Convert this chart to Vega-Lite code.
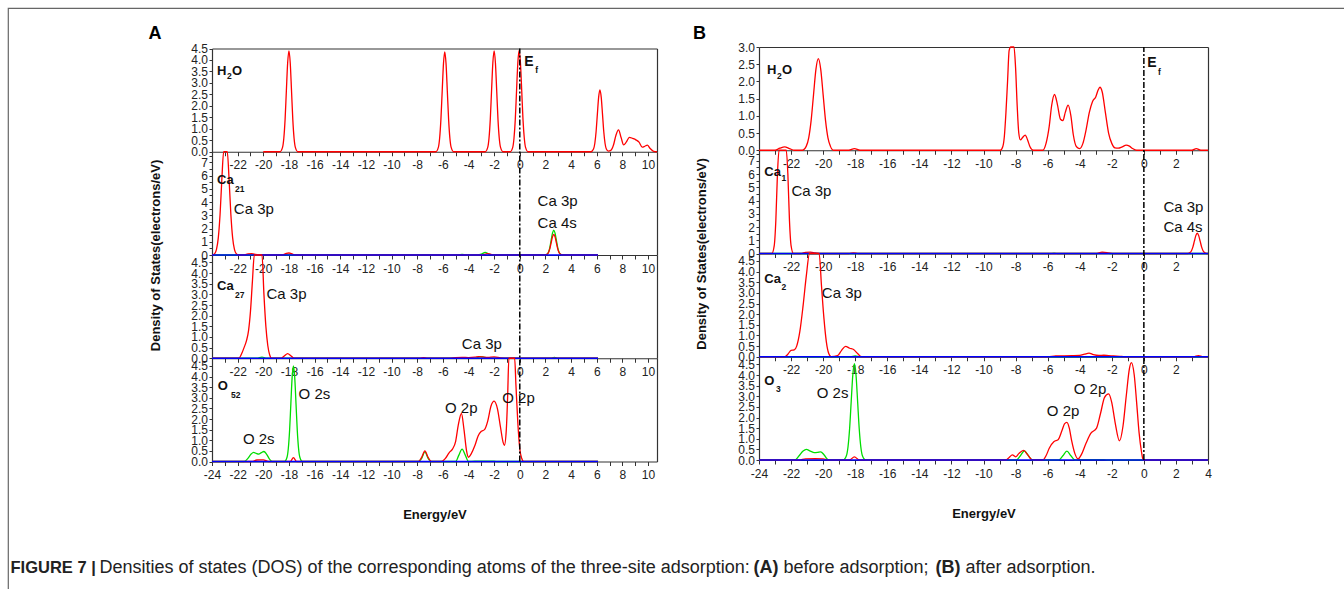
{
"$schema": "https://vega.github.io/schema/vega-lite/v6.json",
"width": 1340, "height": 600,
"autosize": {"type": "none"},
"padding": {"left": 8, "top": 8, "right": -4, "bottom": -19},
"config": {
  "font": "Liberation Sans",
  "view": {"stroke": "#666", "strokeWidth": 1.2},
  "axis": {"domainColor": "#333", "domainWidth": 1.2, "tickColor": "#333", "tickWidth": 1, "labelColor": "#222", "labelFont": "Liberation Sans", "labelFontSize": 12, "labelFlush": false, "labelOverlap": false, "labelBound": false, "grid": false, "titleColor": "#111", "titleFont": "Liberation Sans", "titleFontWeight": "bold", "titleFontSize": 13, "minExtent": 0}
},
"datasets": {
"A_H2O": [
{"energy":-20,"dos":0,"orbital":"p"},{"energy":-18.7,"dos":0,"orbital":"p"},{"energy":-18.5,"dos":0.19,"orbital":"p"},{"energy":-18.4,"dos":0.59,"orbital":"p"},{"energy":-18.3,"dos":1.41,"orbital":"p"},{"energy":-18.2,"dos":2.67,"orbital":"p"},{"energy":-18.1,"dos":3.88,"orbital":"p"},{"energy":-18,"dos":4.4,"orbital":"p"},{"energy":-17.9,"dos":3.88,"orbital":"p"},{"energy":-17.8,"dos":2.67,"orbital":"p"},{"energy":-17.7,"dos":1.41,"orbital":"p"},{"energy":-17.6,"dos":0.59,"orbital":"p"},{"energy":-17.5,"dos":0.19,"orbital":"p"},{"energy":-17.3,"dos":0,"orbital":"p"},
{"energy":-6.55,"dos":0,"orbital":"p"},{"energy":-6.35,"dos":0.19,"orbital":"p"},{"energy":-6.25,"dos":0.59,"orbital":"p"},{"energy":-6.15,"dos":1.41,"orbital":"p"},{"energy":-6.05,"dos":2.64,"orbital":"p"},{"energy":-5.95,"dos":3.84,"orbital":"p"},{"energy":-5.85,"dos":4.35,"orbital":"p"},{"energy":-5.75,"dos":3.84,"orbital":"p"},{"energy":-5.65,"dos":2.64,"orbital":"p"},{"energy":-5.55,"dos":1.41,"orbital":"p"},{"energy":-5.45,"dos":0.59,"orbital":"p"},{"energy":-5.35,"dos":0.19,"orbital":"p"},{"energy":-5.15,"dos":0,"orbital":"p"},
{"energy":-2.7,"dos":0,"orbital":"p"},{"energy":-2.5,"dos":0.19,"orbital":"p"},{"energy":-2.4,"dos":0.59,"orbital":"p"},{"energy":-2.3,"dos":1.41,"orbital":"p"},{"energy":-2.2,"dos":2.67,"orbital":"p"},{"energy":-2.1,"dos":3.88,"orbital":"p"},{"energy":-2,"dos":4.4,"orbital":"p"},{"energy":-1.9,"dos":3.88,"orbital":"p"},{"energy":-1.8,"dos":2.67,"orbital":"p"},{"energy":-1.7,"dos":1.41,"orbital":"p"},{"energy":-1.6,"dos":0.59,"orbital":"p"},{"energy":-1.5,"dos":0.19,"orbital":"p"},{"energy":-1.3,"dos":0,"orbital":"p"},
{"energy":-0.75,"dos":0,"orbital":"p"},{"energy":-0.55,"dos":0.19,"orbital":"p"},{"energy":-0.45,"dos":0.6,"orbital":"p"},{"energy":-0.35,"dos":1.41,"orbital":"p"},{"energy":-0.25,"dos":2.68,"orbital":"p"},{"energy":-0.15,"dos":3.89,"orbital":"p"},{"energy":-0.05,"dos":4.42,"orbital":"p"},{"energy":0.05,"dos":3.89,"orbital":"p"},{"energy":0.15,"dos":2.68,"orbital":"p"},{"energy":0.25,"dos":1.41,"orbital":"p"},{"energy":0.35,"dos":0.6,"orbital":"p"},{"energy":0.45,"dos":0.19,"orbital":"p"},{"energy":0.65,"dos":0,"orbital":"p"},
{"energy":5.55,"dos":0,"orbital":"p"},{"energy":5.75,"dos":0.12,"orbital":"p"},{"energy":5.85,"dos":0.36,"orbital":"p"},{"energy":5.95,"dos":0.87,"orbital":"p"},{"energy":6.05,"dos":1.64,"orbital":"p"},{"energy":6.15,"dos":2.38,"orbital":"p"},{"energy":6.25,"dos":2.7,"orbital":"p"},{"energy":6.35,"dos":2.38,"orbital":"p"},{"energy":6.45,"dos":1.64,"orbital":"p"},{"energy":6.55,"dos":0.87,"orbital":"p"},{"energy":6.65,"dos":0.36,"orbital":"p"},{"energy":6.75,"dos":0.12,"orbital":"p"},{"energy":6.9,"dos":0.03,"orbital":"p"},{"energy":7.1,"dos":0.06,"orbital":"p"},{"energy":7.3,"dos":0.28,"orbital":"p"},{"energy":7.5,"dos":0.72,"orbital":"p"},{"energy":7.7,"dos":0.95,"orbital":"p"},{"energy":7.9,"dos":0.62,"orbital":"p"},{"energy":8.1,"dos":0.3,"orbital":"p"},{"energy":8.3,"dos":0.42,"orbital":"p"},{"energy":8.55,"dos":0.63,"orbital":"p"},{"energy":8.8,"dos":0.58,"orbital":"p"},{"energy":9.05,"dos":0.52,"orbital":"p"},{"energy":9.3,"dos":0.42,"orbital":"p"},{"energy":9.55,"dos":0.2,"orbital":"p"},{"energy":9.75,"dos":0.24,"orbital":"p"},{"energy":9.95,"dos":0.29,"orbital":"p"},{"energy":10.15,"dos":0.15,"orbital":"p"},{"energy":10.4,"dos":0.03,"orbital":"p"},{"energy":10.7,"dos":0,"orbital":"p"}
],
"A_Ca21": [
{"energy":-24,"dos":0,"orbital":"s"},{"energy":-4.8,"dos":0,"orbital":"s"},{"energy":-4.5,"dos":0.04,"orbital":"s"},{"energy":-4.2,"dos":0,"orbital":"s"},{"energy":-3.3,"dos":0,"orbital":"s"},{"energy":-3,"dos":0.06,"orbital":"s"},{"energy":-2.7,"dos":0.2,"orbital":"s"},{"energy":-2.4,"dos":0.06,"orbital":"s"},{"energy":-2.1,"dos":0,"orbital":"s"},{"energy":1.95,"dos":0,"orbital":"s"},{"energy":2.15,"dos":0.08,"orbital":"s"},{"energy":2.25,"dos":0.25,"orbital":"s"},{"energy":2.35,"dos":0.6,"orbital":"s"},{"energy":2.45,"dos":1.14,"orbital":"s"},{"energy":2.55,"dos":1.65,"orbital":"s"},{"energy":2.65,"dos":1.88,"orbital":"s"},{"energy":2.75,"dos":1.65,"orbital":"s"},{"energy":2.85,"dos":1.14,"orbital":"s"},{"energy":2.95,"dos":0.6,"orbital":"s"},{"energy":3.05,"dos":0.25,"orbital":"s"},{"energy":3.15,"dos":0.08,"orbital":"s"},{"energy":3.35,"dos":0,"orbital":"s"},{"energy":6.1,"dos":0,"orbital":"s"},
{"energy":-24,"dos":0,"orbital":"p"},{"energy":-23.95,"dos":0,"orbital":"p"},{"energy":-23.79,"dos":0.1,"orbital":"p"},{"energy":-23.65,"dos":0.42,"orbital":"p"},{"energy":-23.51,"dos":1.29,"orbital":"p"},{"energy":-23.37,"dos":3.08,"orbital":"p"},{"energy":-23.23,"dos":5.76,"orbital":"p"},{"energy":-23.09,"dos":8.38,"orbital":"p"},{"energy":-22.95,"dos":9.5,"orbital":"p"},{"energy":-22.81,"dos":8.38,"orbital":"p"},{"energy":-22.67,"dos":5.76,"orbital":"p"},{"energy":-22.53,"dos":3.08,"orbital":"p"},{"energy":-22.39,"dos":1.29,"orbital":"p"},{"energy":-22.25,"dos":0.42,"orbital":"p"},{"energy":-22.11,"dos":0.1,"orbital":"p"},{"energy":-21.95,"dos":0,"orbital":"p"},{"energy":-21.5,"dos":0,"orbital":"p"},{"energy":-21.2,"dos":0.08,"orbital":"p"},{"energy":-20.9,"dos":0.1,"orbital":"p"},{"energy":-20.6,"dos":0.05,"orbital":"p"},{"energy":-20.3,"dos":0,"orbital":"p"},{"energy":-18.5,"dos":0,"orbital":"p"},{"energy":-18.2,"dos":0.12,"orbital":"p"},{"energy":-18,"dos":0.15,"orbital":"p"},{"energy":-17.8,"dos":0.1,"orbital":"p"},{"energy":-17.5,"dos":0,"orbital":"p"},{"energy":-3,"dos":0,"orbital":"p"},{"energy":-2.5,"dos":0.1,"orbital":"p"},{"energy":-2,"dos":0,"orbital":"p"},{"energy":1.95,"dos":0,"orbital":"p"},{"energy":2.15,"dos":0.07,"orbital":"p"},{"energy":2.25,"dos":0.21,"orbital":"p"},{"energy":2.35,"dos":0.5,"orbital":"p"},{"energy":2.45,"dos":0.94,"orbital":"p"},{"energy":2.55,"dos":1.37,"orbital":"p"},{"energy":2.65,"dos":1.55,"orbital":"p"},{"energy":2.75,"dos":1.37,"orbital":"p"},{"energy":2.85,"dos":0.94,"orbital":"p"},{"energy":2.95,"dos":0.5,"orbital":"p"},{"energy":3.05,"dos":0.21,"orbital":"p"},{"energy":3.15,"dos":0.07,"orbital":"p"},{"energy":3.35,"dos":0,"orbital":"p"},{"energy":6.1,"dos":0,"orbital":"p"},
{"energy":-24,"dos":0,"orbital":"d"},{"energy":6.1,"dos":0,"orbital":"d"}
],
"A_Ca27": [
{"energy":-24,"dos":0,"orbital":"s"},{"energy":-20.5,"dos":0,"orbital":"s"},{"energy":-20.1,"dos":0.05,"orbital":"s"},{"energy":-19.8,"dos":0,"orbital":"s"},{"energy":-3.5,"dos":0,"orbital":"s"},{"energy":-3.1,"dos":0.07,"orbital":"s"},{"energy":-2.7,"dos":0.04,"orbital":"s"},{"energy":-2.3,"dos":0,"orbital":"s"},{"energy":2.4,"dos":0,"orbital":"s"},{"energy":2.7,"dos":0.04,"orbital":"s"},{"energy":3,"dos":0,"orbital":"s"},{"energy":6.1,"dos":0,"orbital":"s"},
{"energy":-24,"dos":0,"orbital":"p"},{"energy":-21.9,"dos":0,"orbital":"p"},{"energy":-21.7,"dos":0.2,"orbital":"p"},{"energy":-21.5,"dos":0.5,"orbital":"p"},{"energy":-21.3,"dos":0.85,"orbital":"p"},{"energy":-21.15,"dos":1.3,"orbital":"p"},{"energy":-21,"dos":2.2,"orbital":"p"},{"energy":-20.85,"dos":3.6,"orbital":"p"},{"energy":-20.7,"dos":5.2,"orbital":"p"},{"energy":-20.55,"dos":6.5,"orbital":"p"},{"energy":-20.4,"dos":7,"orbital":"p"},{"energy":-20.25,"dos":6.5,"orbital":"p"},{"energy":-20.1,"dos":5,"orbital":"p"},{"energy":-19.95,"dos":3,"orbital":"p"},{"energy":-19.8,"dos":1.5,"orbital":"p"},{"energy":-19.65,"dos":0.6,"orbital":"p"},{"energy":-19.5,"dos":0.15,"orbital":"p"},{"energy":-19.35,"dos":0,"orbital":"p"},{"energy":-18.6,"dos":0,"orbital":"p"},{"energy":-18.35,"dos":0.12,"orbital":"p"},{"energy":-18.1,"dos":0.22,"orbital":"p"},{"energy":-17.85,"dos":0.12,"orbital":"p"},{"energy":-17.6,"dos":0,"orbital":"p"},{"energy":-7.8,"dos":0,"orbital":"p"},{"energy":-7.5,"dos":0.03,"orbital":"p"},{"energy":-7.2,"dos":0,"orbital":"p"},{"energy":-5.5,"dos":0,"orbital":"p"},{"energy":-5,"dos":0.03,"orbital":"p"},{"energy":-4.5,"dos":0.04,"orbital":"p"},{"energy":-4,"dos":0.03,"orbital":"p"},{"energy":-3.5,"dos":0.05,"orbital":"p"},{"energy":-3.2,"dos":0.08,"orbital":"p"},{"energy":-2.9,"dos":0.06,"orbital":"p"},{"energy":-2.5,"dos":0.04,"orbital":"p"},{"energy":-2,"dos":0.06,"orbital":"p"},{"energy":-1.5,"dos":0.02,"orbital":"p"},{"energy":-1,"dos":0,"orbital":"p"},{"energy":6.1,"dos":0,"orbital":"p"},
{"energy":-24,"dos":0,"orbital":"d"},{"energy":6.1,"dos":0,"orbital":"d"}
],
"A_O52": [
{"energy":-24,"dos":0,"orbital":"s"},{"energy":-21.5,"dos":0,"orbital":"s"},{"energy":-21.2,"dos":0.15,"orbital":"s"},{"energy":-20.95,"dos":0.35,"orbital":"s"},{"energy":-20.75,"dos":0.43,"orbital":"s"},{"energy":-20.55,"dos":0.38,"orbital":"s"},{"energy":-20.35,"dos":0.35,"orbital":"s"},{"energy":-20.15,"dos":0.42,"orbital":"s"},{"energy":-19.95,"dos":0.47,"orbital":"s"},{"energy":-19.75,"dos":0.35,"orbital":"s"},{"energy":-19.5,"dos":0.1,"orbital":"s"},{"energy":-19.3,"dos":0,"orbital":"s"},{"energy":-18.35,"dos":0,"orbital":"s"},{"energy":-18.15,"dos":0.2,"orbital":"s"},{"energy":-18.05,"dos":0.61,"orbital":"s"},{"energy":-17.95,"dos":1.46,"orbital":"s"},{"energy":-17.85,"dos":2.73,"orbital":"s"},{"energy":-17.75,"dos":3.97,"orbital":"s"},{"energy":-17.65,"dos":4.5,"orbital":"s"},{"energy":-17.55,"dos":3.97,"orbital":"s"},{"energy":-17.45,"dos":2.73,"orbital":"s"},{"energy":-17.35,"dos":1.46,"orbital":"s"},{"energy":-17.25,"dos":0.61,"orbital":"s"},{"energy":-17.15,"dos":0.2,"orbital":"s"},{"energy":-16.95,"dos":0,"orbital":"s"},{"energy":-7.9,"dos":0,"orbital":"s"},{"energy":-7.65,"dos":0.15,"orbital":"s"},{"energy":-7.4,"dos":0.45,"orbital":"s"},{"energy":-7.15,"dos":0.15,"orbital":"s"},{"energy":-6.9,"dos":0,"orbital":"s"},{"energy":-5,"dos":0,"orbital":"s"},{"energy":-4.75,"dos":0.3,"orbital":"s"},{"energy":-4.5,"dos":0.58,"orbital":"s"},{"energy":-4.25,"dos":0.3,"orbital":"s"},{"energy":-4,"dos":0,"orbital":"s"},{"energy":-3.5,"dos":0.02,"orbital":"s"},{"energy":-2,"dos":0.02,"orbital":"s"},{"energy":-1.7,"dos":0,"orbital":"s"},{"energy":6.1,"dos":0,"orbital":"s"},
{"energy":-24,"dos":0,"orbital":"p"},{"energy":-20.9,"dos":0,"orbital":"p"},{"energy":-20.5,"dos":0.07,"orbital":"p"},{"energy":-20,"dos":0.08,"orbital":"p"},{"energy":-19.6,"dos":0,"orbital":"p"},{"energy":-17.9,"dos":0,"orbital":"p"},{"energy":-17.65,"dos":0.18,"orbital":"p"},{"energy":-17.4,"dos":0,"orbital":"p"},{"energy":-7.9,"dos":0,"orbital":"p"},{"energy":-7.65,"dos":0.2,"orbital":"p"},{"energy":-7.4,"dos":0.5,"orbital":"p"},{"energy":-7.15,"dos":0.2,"orbital":"p"},{"energy":-6.9,"dos":0,"orbital":"p"},{"energy":-6.1,"dos":0,"orbital":"p"},{"energy":-5.8,"dos":0.15,"orbital":"p"},{"energy":-5.5,"dos":0.42,"orbital":"p"},{"energy":-5.25,"dos":0.58,"orbital":"p"},{"energy":-5,"dos":0.95,"orbital":"p"},{"energy":-4.8,"dos":1.7,"orbital":"p"},{"energy":-4.55,"dos":2.26,"orbital":"p"},{"energy":-4.35,"dos":1.5,"orbital":"p"},{"energy":-4.15,"dos":0.5,"orbital":"p"},{"energy":-4,"dos":0.2,"orbital":"p"},{"energy":-3.8,"dos":0.35,"orbital":"p"},{"energy":-3.5,"dos":0.75,"orbital":"p"},{"energy":-3.25,"dos":1.2,"orbital":"p"},{"energy":-3,"dos":1.42,"orbital":"p"},{"energy":-2.75,"dos":1.5,"orbital":"p"},{"energy":-2.5,"dos":1.9,"orbital":"p"},{"energy":-2.25,"dos":2.6,"orbital":"p"},{"energy":-2,"dos":2.84,"orbital":"p"},{"energy":-1.75,"dos":2.5,"orbital":"p"},{"energy":-1.5,"dos":1.6,"orbital":"p"},{"energy":-1.3,"dos":0.9,"orbital":"p"},{"energy":-1.2,"dos":0.76,"orbital":"p"},{"energy":-1.05,"dos":1.5,"orbital":"p"},{"energy":-0.95,"dos":3,"orbital":"p"},{"energy":-0.85,"dos":4.9,"orbital":"p"},{"energy":-0.7,"dos":5.6,"orbital":"p"},{"energy":-0.55,"dos":5.6,"orbital":"p"},{"energy":-0.4,"dos":4.9,"orbital":"p"},{"energy":-0.3,"dos":3.6,"orbital":"p"},{"energy":-0.15,"dos":1.8,"orbital":"p"},{"energy":0,"dos":0.6,"orbital":"p"},{"energy":0.15,"dos":0.15,"orbital":"p"},{"energy":0.3,"dos":0,"orbital":"p"},{"energy":6.1,"dos":0,"orbital":"p"},
{"energy":-24,"dos":0,"orbital":"d"},{"energy":6.1,"dos":0,"orbital":"d"}
],
"B_H2O": [
{"energy":-24,"dos":0,"orbital":"p"},{"energy":-23,"dos":0,"orbital":"p"},{"energy":-22.7,"dos":0.06,"orbital":"p"},{"energy":-22.4,"dos":0.1,"orbital":"p"},{"energy":-22.1,"dos":0.05,"orbital":"p"},{"energy":-21.8,"dos":0,"orbital":"p"},{"energy":-21.3,"dos":0,"orbital":"p"},{"energy":-21.05,"dos":0.12,"orbital":"p"},{"energy":-20.9,"dos":0.36,"orbital":"p"},{"energy":-20.75,"dos":0.86,"orbital":"p"},{"energy":-20.6,"dos":1.61,"orbital":"p"},{"energy":-20.45,"dos":2.35,"orbital":"p"},{"energy":-20.3,"dos":2.66,"orbital":"p"},{"energy":-20.15,"dos":2.35,"orbital":"p"},{"energy":-20,"dos":1.61,"orbital":"p"},{"energy":-19.85,"dos":0.86,"orbital":"p"},{"energy":-19.7,"dos":0.36,"orbital":"p"},{"energy":-19.55,"dos":0.12,"orbital":"p"},{"energy":-19.35,"dos":0,"orbital":"p"},{"energy":-18.4,"dos":0,"orbital":"p"},{"energy":-18.05,"dos":0.05,"orbital":"p"},{"energy":-17.7,"dos":0,"orbital":"p"},{"energy":-8.95,"dos":0,"orbital":"p"},{"energy":-8.8,"dos":0.1,"orbital":"p"},{"energy":-8.7,"dos":0.4,"orbital":"p"},{"energy":-8.6,"dos":1.1,"orbital":"p"},{"energy":-8.5,"dos":2,"orbital":"p"},{"energy":-8.4,"dos":2.9,"orbital":"p"},{"energy":-8.3,"dos":3.5,"orbital":"p"},{"energy":-8.2,"dos":3.7,"orbital":"p"},{"energy":-8.1,"dos":3.3,"orbital":"p"},{"energy":-8,"dos":2.4,"orbital":"p"},{"energy":-7.9,"dos":1.3,"orbital":"p"},{"energy":-7.8,"dos":0.5,"orbital":"p"},{"energy":-7.7,"dos":0.3,"orbital":"p"},{"energy":-7.55,"dos":0.38,"orbital":"p"},{"energy":-7.4,"dos":0.44,"orbital":"p"},{"energy":-7.25,"dos":0.3,"orbital":"p"},{"energy":-7.1,"dos":0.1,"orbital":"p"},{"energy":-6.9,"dos":0,"orbital":"p"},{"energy":-6.3,"dos":0,"orbital":"p"},{"energy":-6.1,"dos":0.2,"orbital":"p"},{"energy":-5.9,"dos":0.7,"orbital":"p"},{"energy":-5.75,"dos":1.3,"orbital":"p"},{"energy":-5.57,"dos":1.62,"orbital":"p"},{"energy":-5.4,"dos":1.35,"orbital":"p"},{"energy":-5.2,"dos":0.9,"orbital":"p"},{"energy":-5.05,"dos":0.86,"orbital":"p"},{"energy":-4.9,"dos":1.1,"orbital":"p"},{"energy":-4.72,"dos":1.31,"orbital":"p"},{"energy":-4.55,"dos":1,"orbital":"p"},{"energy":-4.4,"dos":0.45,"orbital":"p"},{"energy":-4.2,"dos":0.1,"orbital":"p"},{"energy":-4,"dos":0.05,"orbital":"p"},{"energy":-3.8,"dos":0.2,"orbital":"p"},{"energy":-3.6,"dos":0.6,"orbital":"p"},{"energy":-3.4,"dos":1.1,"orbital":"p"},{"energy":-3.2,"dos":1.42,"orbital":"p"},{"energy":-3,"dos":1.55,"orbital":"p"},{"energy":-2.85,"dos":1.75,"orbital":"p"},{"energy":-2.74,"dos":1.83,"orbital":"p"},{"energy":-2.6,"dos":1.7,"orbital":"p"},{"energy":-2.4,"dos":1.1,"orbital":"p"},{"energy":-2.2,"dos":0.5,"orbital":"p"},{"energy":-2,"dos":0.2,"orbital":"p"},{"energy":-1.8,"dos":0.07,"orbital":"p"},{"energy":-1.6,"dos":0.06,"orbital":"p"},{"energy":-1.35,"dos":0.1,"orbital":"p"},{"energy":-1.1,"dos":0.15,"orbital":"p"},{"energy":-0.9,"dos":0.12,"orbital":"p"},{"energy":-0.7,"dos":0.05,"orbital":"p"},{"energy":-0.45,"dos":0,"orbital":"p"},{"energy":3,"dos":0,"orbital":"p"},{"energy":3.27,"dos":0.05,"orbital":"p"},{"energy":3.55,"dos":0,"orbital":"p"},{"energy":4,"dos":0,"orbital":"p"}
],
"B_Ca1": [
{"energy":-24,"dos":0,"orbital":"s"},{"energy":-5.9,"dos":0,"orbital":"s"},{"energy":-5.6,"dos":0.03,"orbital":"s"},{"energy":-5.3,"dos":0,"orbital":"s"},{"energy":-2.9,"dos":0,"orbital":"s"},{"energy":-2.5,"dos":0.06,"orbital":"s"},{"energy":-2.1,"dos":0,"orbital":"s"},{"energy":4,"dos":0,"orbital":"s"},
{"energy":-24,"dos":0,"orbital":"p"},{"energy":-23.2,"dos":0,"orbital":"p"},{"energy":-23.05,"dos":0.6,"orbital":"p"},{"energy":-22.95,"dos":2.5,"orbital":"p"},{"energy":-22.85,"dos":6,"orbital":"p"},{"energy":-22.75,"dos":9.5,"orbital":"p"},{"energy":-22.6,"dos":12,"orbital":"p"},{"energy":-22.45,"dos":12,"orbital":"p"},{"energy":-22.3,"dos":9.5,"orbital":"p"},{"energy":-22.2,"dos":6,"orbital":"p"},{"energy":-22.1,"dos":2.5,"orbital":"p"},{"energy":-22,"dos":0.6,"orbital":"p"},{"energy":-21.85,"dos":0,"orbital":"p"},{"energy":-21.4,"dos":0,"orbital":"p"},{"energy":-21.1,"dos":0.08,"orbital":"p"},{"energy":-20.8,"dos":0.1,"orbital":"p"},{"energy":-20.5,"dos":0.05,"orbital":"p"},{"energy":-20.2,"dos":0,"orbital":"p"},{"energy":-18.4,"dos":0,"orbital":"p"},{"energy":-18.1,"dos":0.05,"orbital":"p"},{"energy":-17.8,"dos":0,"orbital":"p"},{"energy":-3,"dos":0,"orbital":"p"},{"energy":-2.6,"dos":0.1,"orbital":"p"},{"energy":-2.2,"dos":0.05,"orbital":"p"},{"energy":-1.9,"dos":0,"orbital":"p"},{"energy":2.75,"dos":0,"orbital":"p"},{"energy":2.88,"dos":0.07,"orbital":"p"},{"energy":2.97,"dos":0.21,"orbital":"p"},{"energy":3.06,"dos":0.5,"orbital":"p"},{"energy":3.15,"dos":0.93,"orbital":"p"},{"energy":3.24,"dos":1.35,"orbital":"p"},{"energy":3.33,"dos":1.53,"orbital":"p"},{"energy":3.42,"dos":1.35,"orbital":"p"},{"energy":3.51,"dos":0.93,"orbital":"p"},{"energy":3.6,"dos":0.5,"orbital":"p"},{"energy":3.69,"dos":0.21,"orbital":"p"},{"energy":3.78,"dos":0.07,"orbital":"p"},{"energy":3.9,"dos":0,"orbital":"p"},{"energy":4,"dos":0,"orbital":"p"},
{"energy":-24,"dos":0,"orbital":"d"},{"energy":4,"dos":0,"orbital":"d"}
],
"B_Ca2": [
{"energy":-24,"dos":0,"orbital":"s"},{"energy":-18.3,"dos":0,"orbital":"s"},{"energy":-18,"dos":0.04,"orbital":"s"},{"energy":-17.7,"dos":0,"orbital":"s"},{"energy":4,"dos":0,"orbital":"s"},
{"energy":-24,"dos":0,"orbital":"p"},{"energy":-22.4,"dos":0,"orbital":"p"},{"energy":-22.2,"dos":0.12,"orbital":"p"},{"energy":-22,"dos":0.3,"orbital":"p"},{"energy":-21.8,"dos":0.32,"orbital":"p"},{"energy":-21.65,"dos":0.5,"orbital":"p"},{"energy":-21.45,"dos":1.2,"orbital":"p"},{"energy":-21.25,"dos":2.4,"orbital":"p"},{"energy":-21.05,"dos":3.8,"orbital":"p"},{"energy":-20.85,"dos":5,"orbital":"p"},{"energy":-20.6,"dos":5.8,"orbital":"p"},{"energy":-20.4,"dos":5.6,"orbital":"p"},{"energy":-20.25,"dos":4.9,"orbital":"p"},{"energy":-20.1,"dos":3.3,"orbital":"p"},{"energy":-19.95,"dos":1.8,"orbital":"p"},{"energy":-19.8,"dos":0.7,"orbital":"p"},{"energy":-19.65,"dos":0.15,"orbital":"p"},{"energy":-19.5,"dos":0,"orbital":"p"},{"energy":-19.1,"dos":0.05,"orbital":"p"},{"energy":-18.85,"dos":0.3,"orbital":"p"},{"energy":-18.6,"dos":0.49,"orbital":"p"},{"energy":-18.35,"dos":0.4,"orbital":"p"},{"energy":-18.1,"dos":0.34,"orbital":"p"},{"energy":-17.85,"dos":0.15,"orbital":"p"},{"energy":-17.6,"dos":0,"orbital":"p"},{"energy":-6,"dos":0,"orbital":"p"},{"energy":-5.5,"dos":0.04,"orbital":"p"},{"energy":-4.5,"dos":0.05,"orbital":"p"},{"energy":-4,"dos":0.06,"orbital":"p"},{"energy":-3.7,"dos":0.12,"orbital":"p"},{"energy":-3.42,"dos":0.17,"orbital":"p"},{"energy":-3.15,"dos":0.1,"orbital":"p"},{"energy":-2.8,"dos":0.06,"orbital":"p"},{"energy":-2.5,"dos":0.07,"orbital":"p"},{"energy":-2.2,"dos":0.05,"orbital":"p"},{"energy":-1.9,"dos":0.04,"orbital":"p"},{"energy":-1.5,"dos":0.02,"orbital":"p"},{"energy":-1.2,"dos":0,"orbital":"p"},{"energy":3.1,"dos":0,"orbital":"p"},{"energy":3.4,"dos":0.05,"orbital":"p"},{"energy":3.7,"dos":0,"orbital":"p"},{"energy":4,"dos":0,"orbital":"p"},
{"energy":-24,"dos":0,"orbital":"d"},{"energy":4,"dos":0,"orbital":"d"}
],
"B_O3": [
{"energy":-24,"dos":0,"orbital":"s"},{"energy":-21.75,"dos":0,"orbital":"s"},{"energy":-21.5,"dos":0.2,"orbital":"s"},{"energy":-21.25,"dos":0.42,"orbital":"s"},{"energy":-21.05,"dos":0.5,"orbital":"s"},{"energy":-20.8,"dos":0.42,"orbital":"s"},{"energy":-20.55,"dos":0.35,"orbital":"s"},{"energy":-20.35,"dos":0.36,"orbital":"s"},{"energy":-20.15,"dos":0.38,"orbital":"s"},{"energy":-19.95,"dos":0.25,"orbital":"s"},{"energy":-19.7,"dos":0.02,"orbital":"s"},{"energy":-19.5,"dos":0,"orbital":"s"},{"energy":-18.75,"dos":0,"orbital":"s"},{"energy":-18.55,"dos":0.2,"orbital":"s"},{"energy":-18.45,"dos":0.61,"orbital":"s"},{"energy":-18.35,"dos":1.47,"orbital":"s"},{"energy":-18.25,"dos":2.75,"orbital":"s"},{"energy":-18.15,"dos":4,"orbital":"s"},{"energy":-18.05,"dos":4.53,"orbital":"s"},{"energy":-17.95,"dos":4,"orbital":"s"},{"energy":-17.85,"dos":2.75,"orbital":"s"},{"energy":-17.75,"dos":1.47,"orbital":"s"},{"energy":-17.65,"dos":0.61,"orbital":"s"},{"energy":-17.55,"dos":0.2,"orbital":"s"},{"energy":-17.35,"dos":0,"orbital":"s"},{"energy":-7.95,"dos":0,"orbital":"s"},{"energy":-7.7,"dos":0.2,"orbital":"s"},{"energy":-7.45,"dos":0.43,"orbital":"s"},{"energy":-7.2,"dos":0.2,"orbital":"s"},{"energy":-6.95,"dos":0,"orbital":"s"},{"energy":-5.3,"dos":0,"orbital":"s"},{"energy":-5.05,"dos":0.2,"orbital":"s"},{"energy":-4.8,"dos":0.42,"orbital":"s"},{"energy":-4.55,"dos":0.2,"orbital":"s"},{"energy":-4.3,"dos":0,"orbital":"s"},{"energy":-4,"dos":0.02,"orbital":"s"},{"energy":-2.5,"dos":0.02,"orbital":"s"},{"energy":-2.2,"dos":0,"orbital":"s"},{"energy":4,"dos":0,"orbital":"s"},
{"energy":-24,"dos":0,"orbital":"p"},{"energy":-21.5,"dos":0,"orbital":"p"},{"energy":-21.1,"dos":0.05,"orbital":"p"},{"energy":-20.5,"dos":0.06,"orbital":"p"},{"energy":-20,"dos":0.05,"orbital":"p"},{"energy":-19.7,"dos":0,"orbital":"p"},{"energy":-18.35,"dos":0,"orbital":"p"},{"energy":-18.05,"dos":0.15,"orbital":"p"},{"energy":-17.75,"dos":0,"orbital":"p"},{"energy":-8.6,"dos":0,"orbital":"p"},{"energy":-8.4,"dos":0.12,"orbital":"p"},{"energy":-8.2,"dos":0.24,"orbital":"p"},{"energy":-8,"dos":0.15,"orbital":"p"},{"energy":-7.8,"dos":0.3,"orbital":"p"},{"energy":-7.5,"dos":0.45,"orbital":"p"},{"energy":-7.25,"dos":0.25,"orbital":"p"},{"energy":-7,"dos":0.02,"orbital":"p"},{"energy":-6.8,"dos":0,"orbital":"p"},{"energy":-6.3,"dos":0,"orbital":"p"},{"energy":-6.1,"dos":0.2,"orbital":"p"},{"energy":-5.9,"dos":0.55,"orbital":"p"},{"energy":-5.6,"dos":0.87,"orbital":"p"},{"energy":-5.35,"dos":0.95,"orbital":"p"},{"energy":-5.1,"dos":1.4,"orbital":"p"},{"energy":-4.95,"dos":1.7,"orbital":"p"},{"energy":-4.8,"dos":1.77,"orbital":"p"},{"energy":-4.65,"dos":1.5,"orbital":"p"},{"energy":-4.5,"dos":0.9,"orbital":"p"},{"energy":-4.3,"dos":0.3,"orbital":"p"},{"energy":-4.1,"dos":0.05,"orbital":"p"},{"energy":-3.9,"dos":0.25,"orbital":"p"},{"energy":-3.6,"dos":0.8,"orbital":"p"},{"energy":-3.3,"dos":1.26,"orbital":"p"},{"energy":-2.95,"dos":1.5,"orbital":"p"},{"energy":-2.7,"dos":2.2,"orbital":"p"},{"energy":-2.45,"dos":2.95,"orbital":"p"},{"energy":-2.2,"dos":3.11,"orbital":"p"},{"energy":-2,"dos":2.7,"orbital":"p"},{"energy":-1.8,"dos":1.8,"orbital":"p"},{"energy":-1.52,"dos":0.9,"orbital":"p"},{"energy":-1.3,"dos":1.6,"orbital":"p"},{"energy":-1.1,"dos":3,"orbital":"p"},{"energy":-0.9,"dos":4.3,"orbital":"p"},{"energy":-0.78,"dos":4.58,"orbital":"p"},{"energy":-0.6,"dos":4,"orbital":"p"},{"energy":-0.45,"dos":2.7,"orbital":"p"},{"energy":-0.3,"dos":1.3,"orbital":"p"},{"energy":-0.15,"dos":0.4,"orbital":"p"},{"energy":-0.04,"dos":0,"orbital":"p"},{"energy":4,"dos":0,"orbital":"p"},
{"energy":-24,"dos":0,"orbital":"d"},{"energy":4,"dos":0,"orbital":"d"}
],
"A_H2O_lab": [{"energy":-23.61,"dos":3.53,"text":"H","kind":"atom"},{"energy":-22.83,"dos":3.3,"text":"2","kind":"sub"},{"energy":-22.44,"dos":3.53,"text":"O","kind":"atom"},{"energy":0.34,"dos":3.92,"text":"E","kind":"fermi"},{"energy":1.2,"dos":3.55,"text":"f","kind":"sub"}],
"A_Ca21_lab": [{"energy":-23.61,"dos":5.7,"text":"Ca","kind":"atom"},{"energy":-22.21,"dos":4.98,"text":"21","kind":"sub"},{"energy":-22.3,"dos":3.44,"text":"Ca 3p","kind":"orbital"},{"energy":1.39,"dos":4.06,"text":"Ca 3p","kind":"orbital"},{"energy":1.39,"dos":2.43,"text":"Ca 4s","kind":"orbital"}],
"A_Ca27_lab": [{"energy":-23.61,"dos":3.4,"text":"Ca","kind":"atom"},{"energy":-22.21,"dos":2.95,"text":"27","kind":"sub"},{"energy":-19.75,"dos":3.01,"text":"Ca 3p","kind":"orbital"},{"energy":-4.52,"dos":0.66,"text":"Ca 3p","kind":"orbital"}],
"A_O52_lab": [{"energy":-23.55,"dos":3.55,"text":"O","kind":"atom"},{"energy":-22.52,"dos":3.13,"text":"52","kind":"sub"},{"energy":-21.59,"dos":1.07,"text":"O 2s","kind":"orbital"},{"energy":-17.25,"dos":3.16,"text":"O 2s","kind":"orbital"},{"energy":-5.83,"dos":2.53,"text":"O 2p","kind":"orbital"},{"energy":-1.37,"dos":3.0,"text":"O 2p","kind":"orbital"}],
"B_H2O_lab": [{"energy":-23.5,"dos":2.32,"text":"H","kind":"atom"},{"energy":-22.88,"dos":2.17,"text":"2","kind":"sub"},{"energy":-22.57,"dos":2.32,"text":"O","kind":"atom"},{"energy":0.21,"dos":2.53,"text":"E","kind":"fermi"},{"energy":0.88,"dos":2.27,"text":"f","kind":"sub"}],
"B_Ca1_lab": [{"energy":-23.67,"dos":6.18,"text":"Ca","kind":"atom"},{"energy":-22.6,"dos":5.67,"text":"1","kind":"sub"},{"energy":-21.98,"dos":4.7,"text":"Ca 3p","kind":"orbital"},{"energy":1.22,"dos":3.55,"text":"Ca 3p","kind":"orbital"},{"energy":1.22,"dos":1.97,"text":"Ca 4s","kind":"orbital"}],
"B_Ca2_lab": [{"energy":-23.67,"dos":3.64,"text":"Ca","kind":"atom"},{"energy":-22.6,"dos":3.29,"text":"2","kind":"sub"},{"energy":-20.08,"dos":3.0,"text":"Ca 3p","kind":"orbital"}],
"B_O3_lab": [{"energy":-23.67,"dos":3.71,"text":"O","kind":"atom"},{"energy":-22.94,"dos":3.36,"text":"3","kind":"sub"},{"energy":-20.4,"dos":3.16,"text":"O 2s","kind":"orbital"},{"energy":-6.05,"dos":2.29,"text":"O 2p","kind":"orbital"},{"energy":-4.37,"dos":3.32,"text":"O 2p","kind":"orbital"}],
"fermi": [{"energy":0,"from":0,"to":1}]
},
"layer": [
{"data":{"name":"A_H2O"},"mark":{"type":"line","interpolate":"monotone","strokeWidth":1.3},
 "encoding":{"x":{"field":"energy","type":"quantitative","scale":{"domain":[-24,10.7],"range":[204,649],"nice":false,"zero":false},"axis":{"orient":"bottom","offset":-456.25,"values":[-24,-23,-22,-21,-20,-19,-18,-17,-16,-15,-14,-13,-12,-11,-10,-9,-8,-7,-6,-5,-4,-3,-2,-1,0,1,2,3,4,5,6,7,8,9,10],"labelExpr":"datum.value % 2 === 0 && datum.value > -24 ? '' + datum.value : ''","tickSize":4,"labelPadding":4,"title":null}},
  "y":{"field":"dos","type":"quantitative","scale":{"domain":[0,4.5],"range":[143.75,40.5],"nice":false,"zero":false,"clamp":true},"axis":{"orient":"left","offset":-204,"values":[0,0.5,1,1.5,2,2.5,3,3.5,4,4.5],"format":".1f","tickSize":3,"labelPadding":1.5,"title":null}},
  "color":{"field":"orbital","type":"nominal","scale":{"domain":["s","p","d"],"range":["#00dd00","#ff0000","#0000ff"]},"legend":null}}},
{"data":{"name":"A_Ca21"},"mark":{"type":"line","interpolate":"monotone","strokeWidth":1.3},
 "encoding":{"x":{"field":"energy","type":"quantitative","scale":{"domain":[-24,10.7],"range":[204,649],"nice":false,"zero":false},"axis":{"orient":"bottom","offset":-353,"values":[-24,-23,-22,-21,-20,-19,-18,-17,-16,-15,-14,-13,-12,-11,-10,-9,-8,-7,-6,-5,-4,-3,-2,-1,0,1,2,3,4,5,6,7,8,9,10],"labelExpr":"datum.value % 2 === 0 && datum.value > -24 ? '' + datum.value : ''","tickSize":4,"labelPadding":4,"title":null}},
  "y":{"field":"dos","type":"quantitative","scale":{"domain":[0,7.8],"range":[247,143.75],"nice":false,"zero":false,"clamp":true},"axis":{"orient":"left","offset":-204,"values":[0,0.5,1,1.5,2,2.5,3,3.5,4,4.5,5,5.5,6,6.5,7,7.5],"labelExpr":"datum.value % 1 === 0 ? '' + datum.value : ''","tickSize":3,"labelPadding":1.5,"title":null}},
  "color":{"field":"orbital","type":"nominal","legend":null}}},
{"data":{"name":"A_Ca27"},"mark":{"type":"line","interpolate":"monotone","strokeWidth":1.3},
 "encoding":{"x":{"field":"energy","type":"quantitative","scale":{"domain":[-24,10.7],"range":[204,649],"nice":false,"zero":false},"axis":{"orient":"bottom","offset":-249.75,"values":[-24,-23,-22,-21,-20,-19,-18,-17,-16,-15,-14,-13,-12,-11,-10,-9,-8,-7,-6,-5,-4,-3,-2,-1,0,1,2,3,4,5,6,7,8,9,10],"labelExpr":"datum.value % 2 === 0 && datum.value > -24 ? '' + datum.value : ''","tickSize":4,"labelPadding":4,"title":null}},
  "y":{"field":"dos","type":"quantitative","scale":{"domain":[0,4.85],"range":[350.25,247],"nice":false,"zero":false,"clamp":true},"axis":{"orient":"left","offset":-204,"values":[0,0.5,1,1.5,2,2.5,3,3.5,4,4.5],"format":".1f","tickSize":3,"labelPadding":1.5,"title":null}},
  "color":{"field":"orbital","type":"nominal","legend":null}}},
{"data":{"name":"A_O52"},"mark":{"type":"line","interpolate":"monotone","strokeWidth":1.3},
 "encoding":{"x":{"field":"energy","type":"quantitative","scale":{"domain":[-24,10.7],"range":[204,649],"nice":false,"zero":false},"axis":{"orient":"bottom","offset":-146.5,"values":[-24,-23,-22,-21,-20,-19,-18,-17,-16,-15,-14,-13,-12,-11,-10,-9,-8,-7,-6,-5,-4,-3,-2,-1,0,1,2,3,4,5,6,7,8,9,10],"labelExpr":"datum.value % 2 === 0 ? '' + datum.value : ''","tickSize":4,"labelPadding":4,"title":"Energy/eV","titlePadding":28}},
  "y":{"field":"dos","type":"quantitative","scale":{"domain":[0,4.86],"range":[453.5,350.25],"nice":false,"zero":false,"clamp":true},"axis":{"orient":"left","offset":-204,"values":[0,0.5,1,1.5,2,2.5,3,3.5,4,4.5],"format":".1f","tickSize":3,"labelPadding":1.5,"title":null}},
  "color":{"field":"orbital","type":"nominal","legend":null}}},
{"data":{"name":"B_H2O"},"mark":{"type":"line","interpolate":"monotone","strokeWidth":1.3},
 "encoding":{"x":{"field":"energy","type":"quantitative","scale":{"domain":[-24,4],"range":[751,1200],"nice":false,"zero":false},"axis":{"orient":"bottom","offset":-457.75,"values":[-24,-23,-22,-21,-20,-19,-18,-17,-16,-15,-14,-13,-12,-11,-10,-9,-8,-7,-6,-5,-4,-3,-2,-1,0,1,2,3,4],"labelExpr":"datum.value % 2 === 0 && datum.value > -24 && datum.value < 4 ? '' + datum.value : ''","tickSize":4,"labelPadding":4,"title":null}},
  "y":{"field":"dos","type":"quantitative","scale":{"domain":[0,3],"range":[142.25,39],"nice":false,"zero":false,"clamp":true},"axis":{"orient":"left","offset":-751,"values":[0,0.5,1,1.5,2,2.5,3],"format":".1f","tickSize":3,"labelPadding":1.5,"title":null}},
  "color":{"field":"orbital","type":"nominal","legend":null}}},
{"data":{"name":"B_Ca1"},"mark":{"type":"line","interpolate":"monotone","strokeWidth":1.3},
 "encoding":{"x":{"field":"energy","type":"quantitative","scale":{"domain":[-24,4],"range":[751,1200],"nice":false,"zero":false},"axis":{"orient":"bottom","offset":-354.5,"values":[-24,-23,-22,-21,-20,-19,-18,-17,-16,-15,-14,-13,-12,-11,-10,-9,-8,-7,-6,-5,-4,-3,-2,-1,0,1,2,3,4],"labelExpr":"datum.value % 2 === 0 && datum.value > -24 && datum.value < 4 ? '' + datum.value : ''","tickSize":4,"labelPadding":4,"title":null}},
  "y":{"field":"dos","type":"quantitative","scale":{"domain":[0,7.8],"range":[245.5,142.25],"nice":false,"zero":false,"clamp":true},"axis":{"orient":"left","offset":-751,"values":[0,0.5,1,1.5,2,2.5,3,3.5,4,4.5,5,5.5,6,6.5,7,7.5],"labelExpr":"datum.value % 1 === 0 ? '' + datum.value : ''","tickSize":3,"labelPadding":1.5,"title":null}},
  "color":{"field":"orbital","type":"nominal","legend":null}}},
{"data":{"name":"B_Ca2"},"mark":{"type":"line","interpolate":"monotone","strokeWidth":1.3},
 "encoding":{"x":{"field":"energy","type":"quantitative","scale":{"domain":[-24,4],"range":[751,1200],"nice":false,"zero":false},"axis":{"orient":"bottom","offset":-251.25,"values":[-24,-23,-22,-21,-20,-19,-18,-17,-16,-15,-14,-13,-12,-11,-10,-9,-8,-7,-6,-5,-4,-3,-2,-1,0,1,2,3,4],"labelExpr":"datum.value % 2 === 0 && datum.value > -24 && datum.value < 4 ? '' + datum.value : ''","tickSize":4,"labelPadding":4,"title":null}},
  "y":{"field":"dos","type":"quantitative","scale":{"domain":[0,4.85],"range":[348.75,245.5],"nice":false,"zero":false,"clamp":true},"axis":{"orient":"left","offset":-751,"values":[0,0.5,1,1.5,2,2.5,3,3.5,4,4.5],"format":".1f","tickSize":3,"labelPadding":1.5,"title":null}},
  "color":{"field":"orbital","type":"nominal","legend":null}}},
{"data":{"name":"B_O3"},"mark":{"type":"line","interpolate":"monotone","strokeWidth":1.3},
 "encoding":{"x":{"field":"energy","type":"quantitative","scale":{"domain":[-24,4],"range":[751,1200],"nice":false,"zero":false},"axis":{"orient":"bottom","offset":-148,"values":[-24,-23,-22,-21,-20,-19,-18,-17,-16,-15,-14,-13,-12,-11,-10,-9,-8,-7,-6,-5,-4,-3,-2,-1,0,1,2,3,4],"labelExpr":"datum.value % 2 === 0 ? '' + datum.value : ''","tickSize":4,"labelPadding":4,"title":"Energy/eV","titlePadding":28}},
  "y":{"field":"dos","type":"quantitative","scale":{"domain":[0,4.86],"range":[452,348.75],"nice":false,"zero":false,"clamp":true},"axis":{"orient":"left","offset":-751,"values":[0,0.5,1,1.5,2,2.5,3,3.5,4,4.5],"format":".1f","tickSize":3,"labelPadding":1.5,"title":null}},
  "color":{"field":"orbital","type":"nominal","legend":null}}},
{"data":{"name":"fermi"},"mark":{"type":"rule","color":"#000","strokeWidth":1.5,"strokeDash":[6,2,2,2]},
 "encoding":{"x":{"field":"energy","type":"quantitative","scale":{"domain":[-24,10.7],"range":[204,649],"nice":false,"zero":false},"axis":{"orient":"top","offset":-40.5,"labels":false,"ticks":false,"domain":true,"title":"A","titleX":146.5,"titleY":-15.5,"titleAlign":"center","titleBaseline":"middle","titleAngle":0,"titleFontSize":18,"titleColor":"#000"}},
  "y":{"field":"from","type":"quantitative","scale":{"domain":[0,1],"range":[453.5,40.5],"nice":false,"zero":false},"axis":{"orient":"left","offset":-204,"labels":false,"ticks":false,"domain":false,"title":"Density of States(electrons/eV)","titlePadding":50,"maxExtent":0}},
  "y2":{"field":"to"}}},
{"data":{"name":"fermi"},"mark":{"type":"rule","color":"#000","strokeWidth":1.5,"strokeDash":[6,2,2,2]},
 "encoding":{"x":{"field":"energy","type":"quantitative","scale":{"domain":[-24,4],"range":[751,1200],"nice":false,"zero":false},"axis":{"orient":"top","offset":-39,"labels":false,"ticks":false,"domain":true,"title":"B","titleX":691,"titleY":-14,"titleAlign":"center","titleBaseline":"middle","titleAngle":0,"titleFontSize":18,"titleColor":"#000"}},
  "y":{"field":"from","type":"quantitative","scale":{"domain":[0,1],"range":[452,39],"nice":false,"zero":false},"axis":{"orient":"left","offset":-751,"labels":false,"ticks":false,"domain":false,"title":"Density of States(electrons/eV)","titlePadding":51,"maxExtent":0}},
  "y2":{"field":"to"}}},
{"data":{"name":"A_H2O_lab"},"mark":{"type":"text","align":"left","baseline":"middle","color":"#111","fontWeight":{"expr":"datum.kind === 'orbital' ? 'normal' : 'bold'"},"fontSize":{"expr":"datum.kind === 'orbital' ? 15 : datum.kind === 'sub' ? 8.5 : datum.kind === 'fermi' ? 14 : 13"}},
 "encoding":{"x":{"field":"energy","type":"quantitative","scale":{"domain":[-24,10.7],"range":[204,649],"nice":false,"zero":false},"axis":{"orient":"top","offset":0,"labels":false,"ticks":false,"domain":false,"title":"FIGURE 7 |","titleX":2,"titleY":559,"titleAlign":"left","titleBaseline":"middle","titleAngle":0,"titleFontSize":16.5,"titleFontWeight":"bold","titleColor":"#222"}},
  "y":{"field":"dos","type":"quantitative","scale":{"domain":[0,4.5],"range":[143.75,40.5],"nice":false,"zero":false},"axis":{"orient":"right","offset":-691,"labels":false,"ticks":false,"domain":true,"title":null}},
  "text":{"field":"text"}}},
{"data":{"name":"A_Ca21_lab"},"mark":{"type":"text","align":"left","baseline":"middle","color":"#111","fontWeight":{"expr":"datum.kind === 'orbital' ? 'normal' : 'bold'"},"fontSize":{"expr":"datum.kind === 'orbital' ? 15 : datum.kind === 'sub' ? 8.5 : datum.kind === 'fermi' ? 14 : 13"}},
 "encoding":{"x":{"field":"energy","type":"quantitative","scale":{"domain":[-24,10.7],"range":[204,649],"nice":false,"zero":false},"axis":{"orient":"top","offset":0,"labels":false,"ticks":false,"domain":false,"title":"Densities of states (DOS) of the corresponding atoms of the three-site adsorption:","titleX":91,"titleY":559,"titleAlign":"left","titleBaseline":"middle","titleAngle":0,"titleFontSize":18,"titleFontWeight":"normal","titleColor":"#222"}},
  "y":{"field":"dos","type":"quantitative","scale":{"domain":[0,7.8],"range":[247,143.75],"nice":false,"zero":false},"axis":{"orient":"right","offset":-691,"labels":false,"ticks":false,"domain":true,"title":null}},
  "text":{"field":"text"}}},
{"data":{"name":"A_Ca27_lab"},"mark":{"type":"text","align":"left","baseline":"middle","color":"#111","fontWeight":{"expr":"datum.kind === 'orbital' ? 'normal' : 'bold'"},"fontSize":{"expr":"datum.kind === 'orbital' ? 15 : datum.kind === 'sub' ? 8.5 : datum.kind === 'fermi' ? 14 : 13"}},
 "encoding":{"x":{"field":"energy","type":"quantitative","scale":{"domain":[-24,10.7],"range":[204,649],"nice":false,"zero":false},"axis":{"orient":"top","offset":0,"labels":false,"ticks":false,"domain":false,"title":"(A)","titleX":745,"titleY":559,"titleAlign":"left","titleBaseline":"middle","titleAngle":0,"titleFontSize":18,"titleFontWeight":"bold","titleColor":"#222"}},
  "y":{"field":"dos","type":"quantitative","scale":{"domain":[0,4.85],"range":[350.25,247],"nice":false,"zero":false},"axis":{"orient":"right","offset":-691,"labels":false,"ticks":false,"domain":true,"title":null}},
  "text":{"field":"text"}}},
{"data":{"name":"A_O52_lab"},"mark":{"type":"text","align":"left","baseline":"middle","color":"#111","fontWeight":{"expr":"datum.kind === 'orbital' ? 'normal' : 'bold'"},"fontSize":{"expr":"datum.kind === 'orbital' ? 15 : datum.kind === 'sub' ? 8.5 : datum.kind === 'fermi' ? 14 : 13"}},
 "encoding":{"x":{"field":"energy","type":"quantitative","scale":{"domain":[-24,10.7],"range":[204,649],"nice":false,"zero":false},"axis":{"orient":"top","offset":0,"labels":false,"ticks":false,"domain":false,"title":"before adsorption;","titleX":775,"titleY":559,"titleAlign":"left","titleBaseline":"middle","titleAngle":0,"titleFontSize":18,"titleFontWeight":"normal","titleColor":"#222"}},
  "y":{"field":"dos","type":"quantitative","scale":{"domain":[0,4.86],"range":[453.5,350.25],"nice":false,"zero":false},"axis":{"orient":"right","offset":-691,"labels":false,"ticks":false,"domain":true,"title":null}},
  "text":{"field":"text"}}},
{"data":{"name":"B_H2O_lab"},"mark":{"type":"text","align":"left","baseline":"middle","color":"#111","fontWeight":{"expr":"datum.kind === 'orbital' ? 'normal' : 'bold'"},"fontSize":{"expr":"datum.kind === 'orbital' ? 15 : datum.kind === 'sub' ? 8.5 : datum.kind === 'fermi' ? 14 : 13"}},
 "encoding":{"x":{"field":"energy","type":"quantitative","scale":{"domain":[-24,4],"range":[751,1200],"nice":false,"zero":false},"axis":{"orient":"top","offset":0,"labels":false,"ticks":false,"domain":false,"title":"(B)","titleX":927,"titleY":559,"titleAlign":"left","titleBaseline":"middle","titleAngle":0,"titleFontSize":18,"titleFontWeight":"bold","titleColor":"#222"}},
  "y":{"field":"dos","type":"quantitative","scale":{"domain":[0,3],"range":[142.25,39],"nice":false,"zero":false},"axis":{"orient":"right","offset":-140,"labels":false,"ticks":false,"domain":true,"title":null}},
  "text":{"field":"text"}}},
{"data":{"name":"B_Ca1_lab"},"mark":{"type":"text","align":"left","baseline":"middle","color":"#111","fontWeight":{"expr":"datum.kind === 'orbital' ? 'normal' : 'bold'"},"fontSize":{"expr":"datum.kind === 'orbital' ? 15 : datum.kind === 'sub' ? 8.5 : datum.kind === 'fermi' ? 14 : 13"}},
 "encoding":{"x":{"field":"energy","type":"quantitative","scale":{"domain":[-24,4],"range":[751,1200],"nice":false,"zero":false},"axis":{"orient":"top","offset":0,"labels":false,"ticks":false,"domain":false,"title":"after adsorption.","titleX":957,"titleY":559,"titleAlign":"left","titleBaseline":"middle","titleAngle":0,"titleFontSize":18,"titleFontWeight":"normal","titleColor":"#222"}},
  "y":{"field":"dos","type":"quantitative","scale":{"domain":[0,7.8],"range":[245.5,142.25],"nice":false,"zero":false},"axis":{"orient":"right","offset":-140,"labels":false,"ticks":false,"domain":true,"title":null}},
  "text":{"field":"text"}}},
{"data":{"name":"B_Ca2_lab"},"mark":{"type":"text","align":"left","baseline":"middle","color":"#111","fontWeight":{"expr":"datum.kind === 'orbital' ? 'normal' : 'bold'"},"fontSize":{"expr":"datum.kind === 'orbital' ? 15 : datum.kind === 'sub' ? 8.5 : datum.kind === 'fermi' ? 14 : 13"}},
 "encoding":{"x":{"field":"energy","type":"quantitative","scale":{"domain":[-24,4],"range":[751,1200],"nice":false,"zero":false},"axis":null},
  "y":{"field":"dos","type":"quantitative","scale":{"domain":[0,4.85],"range":[348.75,245.5],"nice":false,"zero":false},"axis":{"orient":"right","offset":-140,"labels":false,"ticks":false,"domain":true,"title":null}},
  "text":{"field":"text"}}},
{"data":{"name":"B_O3_lab"},"mark":{"type":"text","align":"left","baseline":"middle","color":"#111","fontWeight":{"expr":"datum.kind === 'orbital' ? 'normal' : 'bold'"},"fontSize":{"expr":"datum.kind === 'orbital' ? 15 : datum.kind === 'sub' ? 8.5 : datum.kind === 'fermi' ? 14 : 13"}},
 "encoding":{"x":{"field":"energy","type":"quantitative","scale":{"domain":[-24,4],"range":[751,1200],"nice":false,"zero":false},"axis":null},
  "y":{"field":"dos","type":"quantitative","scale":{"domain":[0,4.86],"range":[452,348.75],"nice":false,"zero":false},"axis":{"orient":"right","offset":-140,"labels":false,"ticks":false,"domain":true,"title":null}},
  "text":{"field":"text"}}}
],
"resolve": {"scale": {"x": "independent", "y": "independent"}, "axis": {"x": "independent", "y": "independent"}}
}
